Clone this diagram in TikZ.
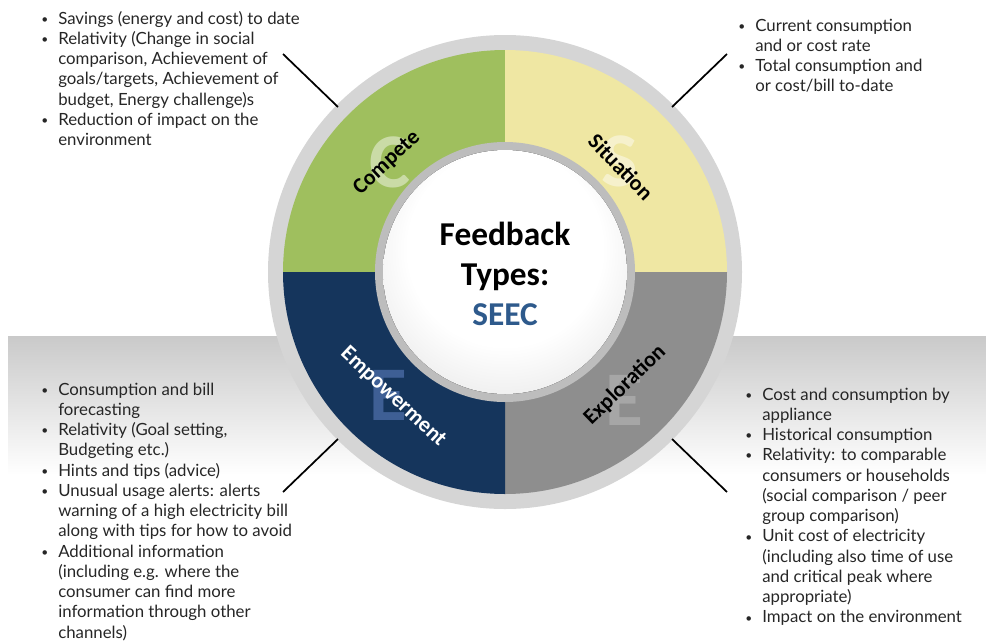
\documentclass[tikz,border=0pt]{standalone}
\usepackage{fontspec}
\setmainfont{Lato}
\newfontfamily\calfont{Carlito}
\usetikzlibrary{positioning,calc}
\definecolor{cmpgreen}{HTML}{9FBF5E}
\definecolor{sityellow}{HTML}{EFE7A3}
\definecolor{empnavy}{HTML}{15355C}
\definecolor{expgray}{HTML}{8E8E8E}
\definecolor{seecblue}{HTML}{2E5A8C}
\definecolor{textgray}{HTML}{262626}
\definecolor{letterblue}{HTML}{3E5F95}
\pgfdeclareradialshading{sphereshade}{\pgfpoint{0bp}{8bp}}{color(0bp)=(white); color(20bp)=(white); color(38bp)=(gray!25); color(50bp)=(gray!48)}
\newcommand{\bul}{\raisebox{0.1ex}{\small\textbullet}}

\begin{document}
\begin{tikzpicture}[x=0.75pt, y=-0.75pt,
    leader/.style={line width=1.3pt, black},
    bullets/.style={anchor=base west, inner sep=0pt, text=textgray,
      font=\fontsize{12.6}{15.2}\selectfont},
    qlabel/.style={inner sep=0pt, font=\calfont\bfseries\fontsize{16.5}{18}\selectfont},
    bigletter/.style={inner sep=0pt, font=\calfont\bfseries\fontsize{58}{60}\selectfont},
    centertext/.style={anchor=base, inner sep=0pt, font=\calfont\bfseries\fontsize{25}{30}\selectfont}]
  \useasboundingbox (0,0) rectangle (986,643);
  \coordinate (C) at (505,272);
  % Grey band behind the lower half
  \shade[top color=gray!42, bottom color=white] (8,336) rectangle (986,475);
  % Outer ring
  \fill[gray!33] (C) circle (237);
  % Quadrants
  \fill[cmpgreen] (C) -- ++(180:222) arc[start angle=180, end angle=270, radius=222] -- cycle;
  \fill[sityellow] (C) -- ++(270:222) arc[start angle=270, end angle=360, radius=222] -- cycle;
  \fill[expgray] (C) -- ++(0:222) arc[start angle=0, end angle=90, radius=222] -- cycle;
  \fill[empnavy] (C) -- ++(90:222) arc[start angle=90, end angle=180, radius=222] -- cycle;
  % Faded initials
  \node[bigletter, text=white, opacity=0.45] (bigC) at (390,162) {C};
  \node[bigletter, text=white, opacity=0.45] (bigS) at (620,161) {S};
  \node[bigletter, text=letterblue] (bigE1) at (388,395) {E};
  \node[bigletter, text=gray!70] (bigE2) at (624,400) {E};
  % Quadrant names
  \node[qlabel, rotate=43] (cmpLbl) at (387,163) {Compete};
  \node[qlabel, rotate=-46] (sitLbl) at (621,167) {Situation};
  \node[qlabel, rotate=-43, text=white] (empLbl) at (393,397) {Empowerment};
  \node[qlabel, rotate=44] (expLbl) at (625,385) {Exploration};
  % Centre sphere
  \fill[gray!52] (C) circle (130);
  \fill[shading=sphereshade] (C) circle (122);
  \node[centertext] (fbTxt) at (505,245) {Feedback};
  \node[centertext] (tyTxt) at (505,285) {Types:};
  \node[centertext, text=seecblue] (seecTxt) at (505,325) {SEEC};
  % Leader lines
  \coordinate (tlIn) at (338,107);  \coordinate (tlOut) at (283,54);
  \coordinate (trIn) at (672,107);  \coordinate (trOut) at (727,54);
  \coordinate (blIn) at (338,439);  \coordinate (blOut) at (283,492);
  \coordinate (brIn) at (672,439);  \coordinate (brOut) at (727,492);
  \draw[leader] (tlIn) -- (tlOut);
  \draw[leader] (trIn) -- (trOut);
  \draw[leader] (blIn) -- (blOut);
  \draw[leader] (brIn) -- (brOut);
  % Compete list
  \node[bullets] (cmpList) at (41,24) {%
    \begin{tabular}[t]{@{}p{12.75pt}@{}l@{}}
    \bul & Savings (energy and cost) to date\\
    \bul & Relativity (Change in social\\
         & comparison, Achievement of\\
         & goals/targets, Achievement of\\
         & budget, Energy challenge)s\\
    \bul & Reduction of impact on the\\
         & environment
    \end{tabular}};
  % Situation list
  \node[bullets] (sitList) at (738,31) {%
    \begin{tabular}[t]{@{}p{12.75pt}@{}l@{}}
    \bul & Current consumption\\
         & and or cost rate\\
    \bul & Total consumption and\\
         & or cost/bill to-date
    \end{tabular}};
  % Empowerment list
  \node[bullets] (empList) at (41,395) {%
    \begin{tabular}[t]{@{}p{12.75pt}@{}l@{}}
    \bul & Consumption and bill\\
         & forecasting\\
    \bul & Relativity (Goal setting,\\
         & Budgeting etc.)\\
    \bul & Hints and tips (advice)\\
    \bul & Unusual usage alerts: alerts\\
         & warning of a high electricity bill\\
         & along with tips for how to avoid\\
    \bul & Additional information\\
         & (including e.g. where the\\
         & consumer can find more\\
         & information through other\\
         & channels)
    \end{tabular}};
  % Exploration list
  \node[bullets] (expList) at (745,400) {%
    \begin{tabular}[t]{@{}p{12.75pt}@{}l@{}}
    \bul & Cost and consumption by\\
         & appliance\\
    \bul & Historical consumption\\
    \bul & Relativity: to comparable\\
         & consumers or households\\
         & (social comparison / peer\\
         & group comparison)\\
    \bul & Unit cost of electricity\\
         & (including also time of use\\
         & and critical peak where\\
         & appropriate)\\
    \bul & Impact on the environment
    \end{tabular}};
\end{tikzpicture}
\end{document}
